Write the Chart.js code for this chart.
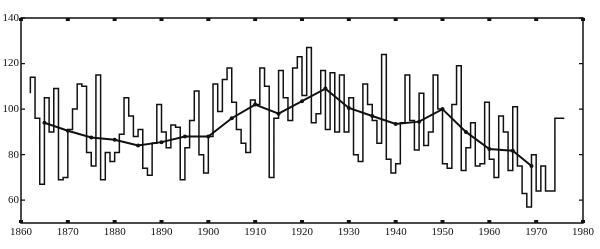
<!DOCTYPE html>
<html>
<head>
<meta charset="utf-8">
<script src="https://cdn.jsdelivr.net/npm/chart.js@4.4.1/dist/chart.umd.min.js"></script>
<style>body{margin:0;background:#fff}</style>
</head>
<body>
<canvas id="myChart" width="600" height="249"></canvas>
<script>
// annual values (each step starts at its year)
const years = [
  1862, 1863, 1864, 1865, 1866, 1867, 1868, 1869, 1870,
  1871, 1872, 1873, 1874, 1875, 1876, 1877, 1878, 1879, 1880,
  1881, 1882, 1883, 1884, 1885, 1886, 1887, 1888, 1889, 1890,
  1891, 1892, 1893, 1894, 1895, 1896, 1897, 1898, 1899, 1900,
  1901, 1902, 1903, 1904, 1905, 1906, 1907, 1908, 1909, 1910,
  1911, 1912, 1913, 1914, 1915, 1916, 1917, 1918, 1919, 1920,
  1921, 1922, 1923, 1924, 1925, 1926, 1927, 1928, 1929, 1930,
  1931, 1932, 1933, 1934, 1935, 1936, 1937, 1938, 1939, 1940,
  1941, 1942, 1943, 1944, 1945, 1946, 1947, 1948, 1949, 1950,
  1951, 1952, 1953, 1954, 1955, 1956, 1957, 1958, 1959, 1960,
  1961, 1962, 1963, 1964, 1965, 1966, 1967, 1968, 1969, 1970,
  1971, 1972, 1973, 1974, 1975
];
const annual = [
  107, 114, 96, 67, 105, 90, 109, 69, 70,
  91, 100, 111, 110, 81, 75, 115, 69, 81, 77,
  81, 89, 105, 97, 88, 91, 74, 71, 85, 102,
  90, 83, 93, 92, 69, 83, 95, 108, 80, 72,
  88, 111, 99, 113, 118, 103, 91, 85, 81, 104,
  102, 118, 110, 70, 96, 117, 105, 95, 118, 123,
  106, 127, 94, 98, 117, 91, 116, 90, 115, 90,
  105, 80, 77, 111, 102, 95, 85, 124, 78, 72,
  76, 94, 115, 95, 82, 107, 84, 90, 115, 100,
  76, 74, 102, 119, 73, 83, 94, 75, 76, 103,
  78, 70, 97, 90, 73, 101, 75, 63, 57, 80,
  64, 75, 64, 64, 96
];

// smoothed (5-year) curve
const smoothYears = [1865, 1870, 1875, 1880, 1885, 1890, 1895, 1900, 1905, 1910, 1915,
  1920, 1925, 1930, 1935, 1940, 1945, 1950, 1955, 1960, 1965, 1969];
const smooth = [94, 90.5, 87.5, 86.5, 84, 85.5, 88, 88, 96, 102, 98,
  103.5, 109, 100.5, 97, 93.5, 94.5, 100, 90, 82.5, 81.7, 75];

const xTicks = [1860, 1870, 1880, 1890, 1900, 1910, 1920, 1930, 1940, 1950, 1960, 1970, 1980];
const yTicks = [60, 80, 100, 120, 140];

const stepPoints = years.map((yr, i) => ({ x: yr, y: annual[i] }));
// close the last step
stepPoints.push({ x: years[years.length - 1] + 1, y: annual[annual.length - 1] });

const frame = {
  id: 'frame',
  afterDatasetsDraw(chart) {
    const { ctx, chartArea: { left, top, right, bottom }, scales: { x, y } } = chart;
    ctx.save();
    ctx.strokeStyle = '#111';
    ctx.fillStyle = '#111';
    ctx.lineWidth = 1.5;
    ctx.strokeRect(left, top, right - left, bottom - top);

    // ticks at decades, top and bottom
    xTicks.forEach(v => {
      const px = x.getPixelForValue(v);
      ctx.fillRect(px - 2, top, 4, 3);
      ctx.fillRect(px - 2, bottom - 3, 4, 3);
    });
    // ticks on left and right
    ctx.lineWidth = 1.2;
    ctx.beginPath();
    yTicks.forEach(v => {
      const py = y.getPixelForValue(v);
      ctx.moveTo(left, py); ctx.lineTo(left + 4, py);
      ctx.moveTo(right, py); ctx.lineTo(right - 4, py);
    });
    ctx.stroke();
    ctx.restore();
  }
};

const font = { family: "'Liberation Serif', 'DejaVu Serif', serif", size: 11 };

new Chart(document.getElementById('myChart'), {
  type: 'line',
  data: {
    datasets: [
      {
        data: stepPoints,
        stepped: 'after',
        borderColor: '#111',
        borderWidth: 1.5,
        pointRadius: 0,
        fill: false
      },
      {
        data: smoothYears.map((yr, i) => ({ x: yr, y: smooth[i] })),
        borderColor: '#111',
        borderWidth: 2,
        pointRadius: 2,
        pointBackgroundColor: '#111',
        pointBorderWidth: 0,
        tension: 0,
        fill: false
      }
    ]
  },
  options: {
    responsive: false,
    animation: false,
    layout: { padding: { top: 18, right: 17, left: 0, bottom: 0 } },
    plugins: {
      legend: { display: false },
      tooltip: { enabled: false }
    },
    scales: {
      x: {
        type: 'linear',
        min: 1860,
        max: 1980,
        grid: { display: false, drawTicks: false },
        border: { display: false },
        afterBuildTicks: s => { s.ticks = xTicks.map(v => ({ value: v })); },
        afterFit: s => { s.height = 26; },
        ticks: {
          font: font,
          color: '#111',
          padding: 3,
          maxRotation: 0,
          callback: v => String(v)
        }
      },
      y: {
        min: 50,
        max: 140,
        grid: { display: false, drawTicks: false },
        border: { display: false },
        afterBuildTicks: s => { s.ticks = yTicks.map(v => ({ value: v })); },
        afterFit: s => { s.width = 21; },
        ticks: {
          font: font,
          color: '#111',
          padding: 2,
          callback: v => String(v)
        }
      }
    }
  },
  plugins: [frame]
});
</script>
</body>
</html>
